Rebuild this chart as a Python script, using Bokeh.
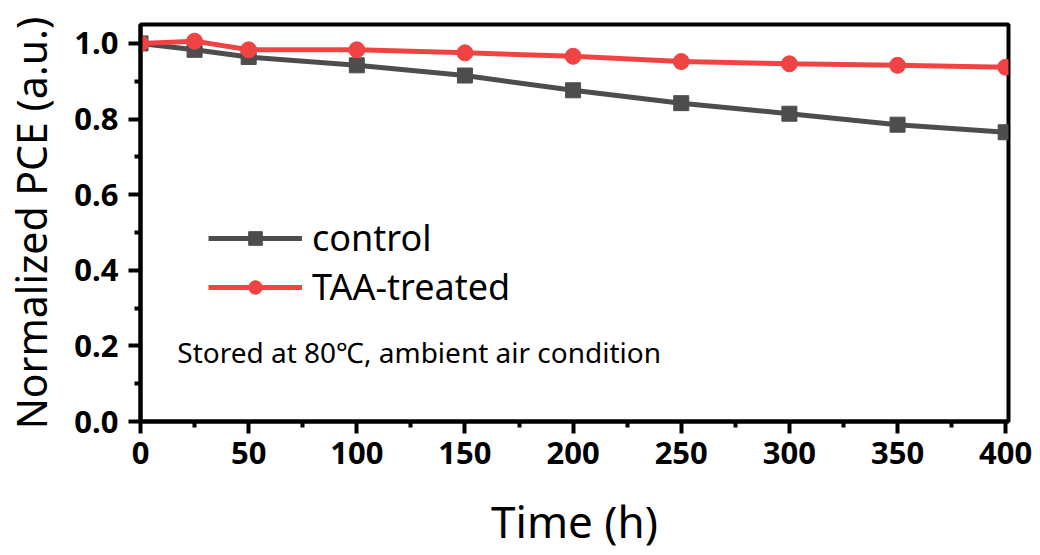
from bokeh.plotting import figure
from bokeh.models import Range1d, Legend, LegendItem, Label, FixedTicker, CustomJSTickFormatter
from bokeh.embed import file_html
from bokeh.resources import INLINE

time_h = [0, 25, 50, 100, 150, 200, 250, 300, 350, 400]
control = [1.000, 0.983, 0.964, 0.942, 0.915, 0.876, 0.842, 0.814, 0.785, 0.765]
taa_treated = [1.000, 1.006, 0.983, 0.983, 0.975, 0.966, 0.952, 0.946, 0.942, 0.937]
x_ticks = [0, 50, 100, 150, 200, 250, 300, 350, 400]
x_minor = [25, 75, 125, 175, 225, 275, 325, 375]
y_ticks = [0.0, 0.2, 0.4, 0.6, 0.8, 1.0]
y_minor = [0.1, 0.3, 0.5, 0.7, 0.9]

FONT = "Noto Sans"
GRAY = "#4d4d4d"
RED = "#f04444"

p = figure(width=1040, height=555, output_backend="svg", toolbar_location=None,
           x_range=Range1d(0, 401.3), y_range=Range1d(0, 1.05))
p.min_border_left = 140
p.min_border_right = 32
p.min_border_top = 24
p.min_border_bottom = 134
p.xgrid.visible = False
p.ygrid.visible = False
p.outline_line_color = "black"
p.outline_line_width = 4
p.background_fill_color = "white"
p.border_fill_color = "white"

for ax in (p.xaxis[0], p.yaxis[0]):
    ax.axis_line_width = 4
    ax.major_tick_line_width = 4
    ax.minor_tick_line_width = 4
    ax.major_tick_out = 12
    ax.major_tick_in = 0
    ax.minor_tick_out = 6
    ax.minor_tick_in = 0
    ax.major_label_text_font = FONT
    ax.major_label_text_font_style = "bold"
    ax.major_label_text_font_size = "31px"
    ax.major_label_text_color = "black"
    ax.axis_label_text_font = FONT
    ax.axis_label_text_font_style = "normal"
    ax.axis_label_text_color = "black"

p.xaxis.axis_label_text_font_size = "44px"
p.yaxis.axis_label_text_font_size = "41px"
p.xaxis.ticker = FixedTicker(ticks=x_ticks, minor_ticks=x_minor)
p.yaxis.ticker = FixedTicker(ticks=y_ticks, minor_ticks=y_minor)
p.yaxis.formatter = CustomJSTickFormatter(code="return tick.toFixed(1);")
p.xaxis.major_label_standoff = 8
p.yaxis.major_label_standoff = 10
p.xaxis.axis_label = "Time (h)"
p.yaxis.axis_label = "Normalized PCE (a.u.)"
p.xaxis.axis_label_standoff = 24
p.yaxis.axis_label_standoff = 12

l1 = p.line(time_h, control, line_color=GRAY, line_width=5)
s1 = p.scatter(time_h, control, marker="square", size=15, fill_color=GRAY, line_color=GRAY)
l2 = p.line(time_h, taa_treated, line_color=RED, line_width=5)
s2 = p.scatter(time_h, taa_treated, marker="circle", size=16, fill_color=RED, line_color=RED)

legend = Legend(items=[LegendItem(label="control", renderers=[l1, s1]),
                       LegendItem(label="TAA-treated", renderers=[l2, s2])],
                location=(68, 110), glyph_width=94, glyph_height=34, label_height=40,
                spacing=0, padding=0, margin=0, label_standoff=10,
                label_text_font=FONT, label_text_font_size="36px", label_text_color="black",
                border_line_color=None, background_fill_alpha=0)
p.add_layout(legend, "center")

note = Label(x=17, y=0.183, text="Stored at 80\u2103, ambient air condition",
             text_font=FONT, text_font_size="28px", text_baseline="middle", text_color="black")
p.add_layout(note)

open("out.html", "w").write(file_html(p, INLINE))
